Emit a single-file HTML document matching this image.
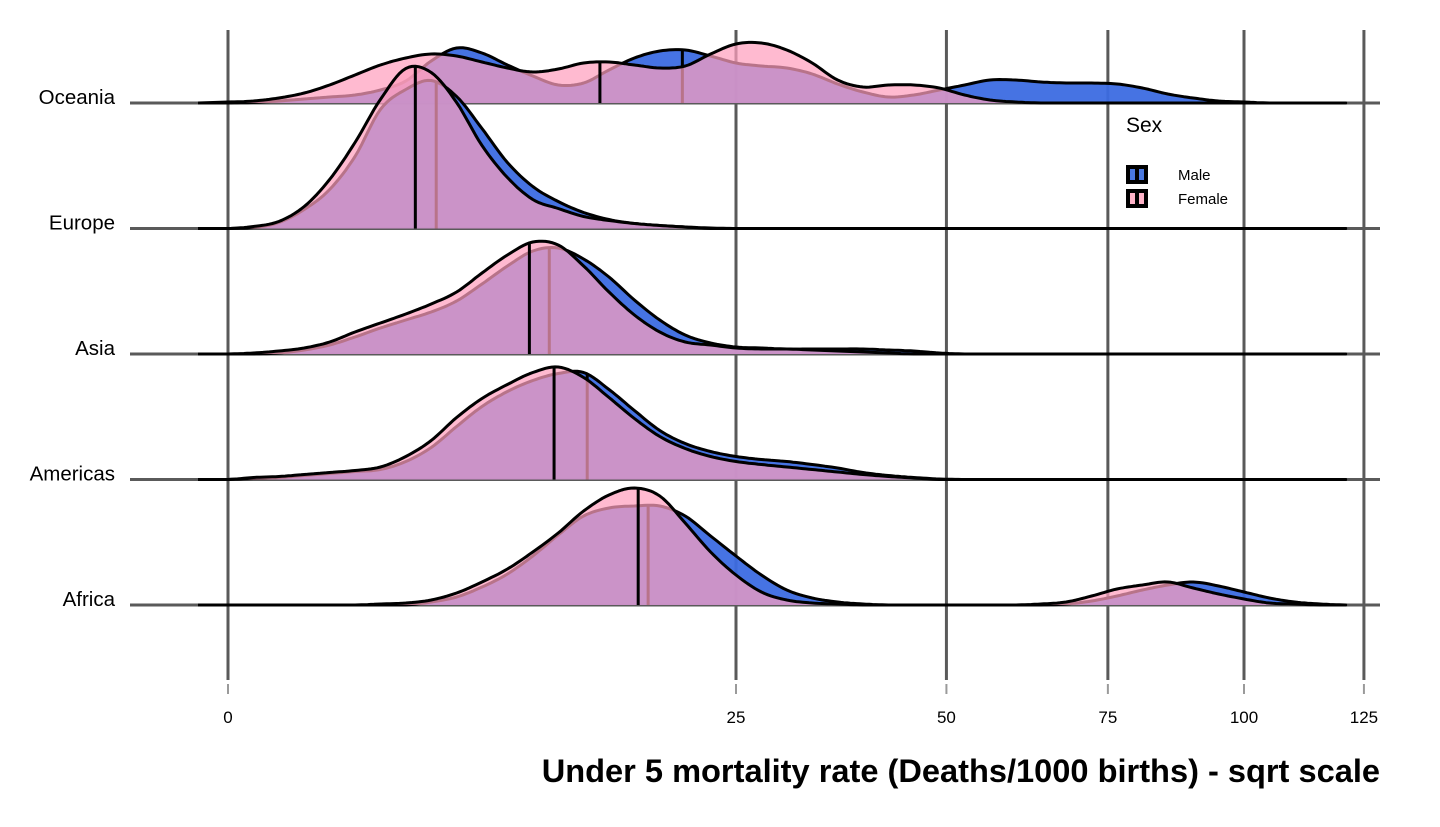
<!DOCTYPE html>
<html><head><meta charset="utf-8"><style>
html,body{margin:0;padding:0;background:#fff;width:1440px;height:827px;overflow:hidden}
svg{display:block;font-family:"Liberation Sans",Arial,sans-serif}
</style></head><body>
<svg id="chart" width="1440" height="827" viewBox="0 0 1440 827"></svg>
<script>
// sqrt-scale sample grid (sqrt of deaths per 1000)
const gridSqrt = [0,0.25,0.5,0.75,1,1.25,1.5,1.75,2,2.25,2.5,2.75,3,3.25,3.5,3.75,4,4.25,4.5,4.75,5,5.25,5.5,5.75,6,6.25,6.5,6.75,7,7.25,7.5,7.75,8,8.25,8.5,8.75,9,9.25,9.5,9.75,10,10.25,10.5,10.75,11];
const regions = ["Oceania","Europe","Asia","Americas","Africa"];
const xTicks = [0,25,50,75,100,125];
const oceaniaMale = [0,.005,.02,.04,.06,.08,.13,.22,.42,.55,.5,.38,.27,.18,.2,.33,.45,.52,.53,.47,.40,.37,.35,.29,.19,.11,.06,.08,.13,.18,.23,.23,.21,.2,.2,.19,.15,.09,.05,.02,.01,0,0,0,0];
const oceaniaFemale = [.01,.02,.05,.1,.18,.28,.38,.45,.49,.47,.41,.35,.31,.34,.40,.41,.38,.35,.37,.49,.59,.60,.53,.40,.23,.16,.18,.18,.15,.08,.03,.01,0,0,0,0,0,0,0,0,0,0,0,0,0];
const europeMale = [0,.01,.06,.19,.39,.72,1.19,1.39,1.48,1.32,1.0,.66,.42,.27,.16,.09,.05,.03,.015,.005,0,0,0,0,0,0,0,0,0,0,0,0,0,0,0,0,0,0,0,0,0,0,0,0,0];
const europeFemale = [0,.02,.07,.22,.49,.86,1.29,1.6,1.56,1.26,.83,.51,.29,.2,.12,.08,.05,.03,.015,0,0,0,0,0,0,0,0,0,0,0,0,0,0,0,0,0,0,0,0,0,0,0,0,0,0];
const asiaMale = [0,0,.01,.04,.09,.17,.26,.34,.42,.53,.7,.88,1.03,1.06,.95,.77,.54,.34,.19,.11,.07,.06,.05,.05,.05,.05,.04,.03,.01,0,0,0,0,0,0,0,0,0,0,0,0,0,0,0,0];
const asiaFemale = [0,.01,.03,.06,.12,.22,.31,.40,.5,.62,.81,.99,1.12,1.09,.88,.62,.39,.22,.12,.09,.06,.05,.05,.04,.03,.02,.01,0,0,0,0,0,0,0,0,0,0,0,0,0,0,0,0,0,0];
const americasMale = [0,.01,.02,.04,.06,.08,.1,.18,.32,.53,.73,.88,.99,1.06,1.07,.9,.69,.49,.36,.28,.23,.2,.18,.15,.115,.07,.04,.02,.005,0,0,0,0,0,0,0,0,0,0,0,0,0,0,0,0];
const americasFemale = [0,.02,.03,.05,.07,.09,.125,.23,.39,.62,.81,.95,1.07,1.125,1.02,.82,.61,.43,.31,.23,.18,.15,.125,.1,.075,.05,.03,.015,0,0,0,0,0,0,0,0,0,0,0,0,0,0,0,0,0];
const africaMale = [0,0,0,0,0,0,0,0,.03,.08,.18,.31,.49,.7,.89,.97,.99,.99,.89,.69,.49,.30,.15,.07,.03,.01,0,0,0,0,0,0,0,.01,.04,.09,.15,.2,.23,.19,.13,.07,.03,.01,0];
const africaFemale = [0,0,0,0,0,0,.01,.02,.05,.12,.23,.36,.53,.72,.94,1.1,1.17,1.09,.82,.53,.30,.13,.05,.02,.01,0,0,0,0,0,0,0,.01,.03,.09,.16,.2,.23,.17,.11,.06,.02,.01,0,0];
const maleSeries = [oceaniaMale, europeMale, asiaMale, americasMale, africaMale];
const femaleSeries = [oceaniaFemale, europeFemale, asiaFemale, americasFemale, africaFemale];
const maleMedians = [20.0, 4.2, 10.0, 12.5, 17.1];
const femaleMedians = [13.4, 3.4, 8.8, 10.3, 16.3];

const NS = "http://www.w3.org/2000/svg";
const svg = document.getElementById("chart");
const X0 = 228, PXU = 101.6;
const xScaleSqrt = s => X0 + s * PXU;
const xScale = v => xScaleSqrt(Math.sqrt(v));
const baseY = i => 103 + i * 125.5;
const H = 100;
function mk(tag, attrs, parent) {
  const e = document.createElementNS(NS, tag);
  for (const k in attrs) e.setAttribute(k, attrs[k]);
  (parent || svg).appendChild(e);
  return e;
}
function dense(vals) {
  const pts = [];
  const n = vals.length;
  for (let i = 0; i < n - 1; i++) {
    const p0 = vals[Math.max(0, i - 1)], p1 = vals[i], p2 = vals[i + 1], p3 = vals[Math.min(n - 1, i + 2)];
    for (let t = 0; t < 1; t += 0.125) {
      const t2 = t * t, t3 = t2 * t;
      let v = 0.5 * (2 * p1 + (-p0 + p2) * t + (2 * p0 - 5 * p1 + 4 * p2 - p3) * t2 + (-p0 + 3 * p1 - 3 * p2 + p3) * t3);
      if (v < 0) v = 0;
      const s = gridSqrt[i] + (gridSqrt[i + 1] - gridSqrt[i]) * t;
      pts.push([xScaleSqrt(s), v]);
    }
  }
  pts.push([xScaleSqrt(gridSqrt[n - 1]), vals[n - 1]]);
  return pts;
}
function valAt(pts, x) {
  for (let i = 0; i < pts.length - 1; i++) {
    if (x >= pts[i][0] && x <= pts[i + 1][0]) {
      const f = (x - pts[i][0]) / (pts[i + 1][0] - pts[i][0]);
      return pts[i][1] + f * (pts[i + 1][1] - pts[i][1]);
    }
  }
  return 0;
}

const g = mk("g", {});


xTicks.forEach(t => {
  const x = xScale(t);
  const l = mk("line", {x1: x, x2: x, y1: 30, y2: 680, stroke: "#5a5a5a", "stroke-width": 3}, g);
  
  
  const tk = mk("line", {x1: x, x2: x, y1: 684, y2: 694, stroke: "#9a9a9a", "stroke-width": 2}, g);
  
  
  const tl = mk("text", {x: x, y: 723, "text-anchor": "middle", "font-size": 17, fill: "#000"}, g);
  tl.textContent = t;
  
  
});
regions.forEach((r, i) => {
  const y = baseY(i);
  const l = mk("line", {x1: 130, x2: 1380, y1: y, y2: y, stroke: "#5a5a5a", "stroke-width": 3}, g);
  
  
  const t = mk("text", {x: 115, y: y + 1, "text-anchor": "end", "font-size": 20.5, fill: "#000"}, g);
  t.textContent = r;
  
  
});

function drawDensity(vals, i, fill, medVal, medColor, sex) {
  const y0 = baseY(i);
  const pts = dense(vals);
  let d = `M${pts[0][0]},${y0}`;
  pts.forEach(p => d += `L${p[0].toFixed(1)},${(y0 - p[1] * H).toFixed(1)}`);
  d += `L${pts[pts.length - 1][0]},${y0}Z`;
  const area = mk("path", {d: d, fill: fill, stroke: "none"});
  
  
  let ld = `M198,${y0}`;
  pts.forEach(p => ld += `L${p[0].toFixed(1)},${(y0 - p[1] * H).toFixed(1)}`);
  ld += `L1325,${y0}`;
  const line = mk("path", {d: ld, fill: "none", stroke: "#000", "stroke-width": 3, "stroke-linejoin": "round"});
  
  
  const mx = xScale(medVal);
  const mh = valAt(pts, mx) * H;
  const m = mk("line", {x1: mx, x2: mx, y1: y0, y2: y0 - mh, stroke: medColor, "stroke-width": 3});
  
  
}
regions.forEach((r, i) => {
  drawDensity(maleSeries[i], i, "rgba(60,108,225,0.95)", maleMedians[i], "#000", "male");
  drawDensity(femaleSeries[i], i, "rgba(255,160,190,0.72)", femaleMedians[i], "#000", "female");
});

const xt = mk("text", {x: 1380, y: 782, "text-anchor": "end", "font-size": 32.6, "font-weight": "bold", fill: "#000"});
xt.textContent = "Under 5 mortality rate (Deaths/1000 births) - sqrt scale";



const lg = mk("g", {});


const lt = mk("text", {x: 1126, y: 132, "font-size": 21, fill: "#000"}, lg);
lt.textContent = "Sex";


[["Male", "#4a78e0", 165], ["Female", "#ffb3c8", 189]].forEach(([lab, col, y]) => {
  const kg = mk("g", {}, lg);
  
  
  mk("rect", {x: 1126, y: y, width: 22, height: 19, fill: "#000"}, kg);
  mk("rect", {x: 1130, y: y + 4, width: 5, height: 11, fill: col}, kg);
  mk("rect", {x: 1139, y: y + 4, width: 5, height: 11, fill: col}, kg);
  const t = mk("text", {x: 1178, y: y + 15, "font-size": 15, fill: "#000"}, kg);
  t.textContent = lab;
});
</script>
</body></html>
